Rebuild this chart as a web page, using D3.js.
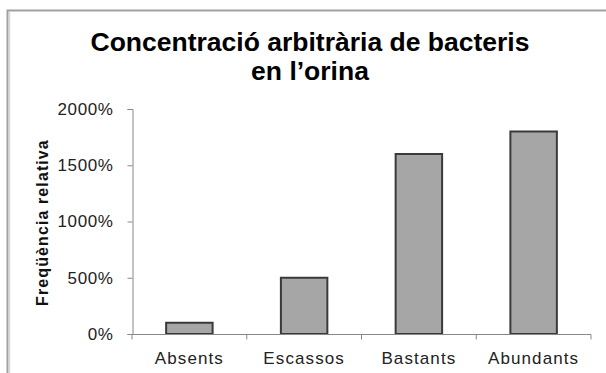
<!DOCTYPE html>
<html><head><meta charset="utf-8">
<script src="https://cdn.jsdelivr.net/npm/d3@7"></script>
<style>html,body{margin:0;padding:0;background:#fff;}svg{display:block;}</style>
</head><body>
<script>
const categories = ["Absents", "Escassos", "Bastants", "Abundants"];
const values = [100, 500, 1600, 1800];
const yTicks = [0, 500, 1000, 1500, 2000];
const titleLines = ["Concentració arbitrària de bacteris", "en l’orina"];
const yLabel = "Freqüència relativa";

const W = 606, H = 373;
const font = "Arial, 'Liberation Sans', sans-serif";
const svg = d3.select("body").append("svg").attr("width", W).attr("height", H);

// frame
svg.append("rect").attr("x", 7.5).attr("y", 10.5).attr("width", W + 10).attr("height", H + 10)
  .attr("fill", "#fff").attr("stroke", "#a0a0a0").attr("stroke-width", 2);
svg.append("line").attr("x1", 9.5).attr("x2", 9.5).attr("y1", 12).attr("y2", H)
  .attr("stroke", "#d8d8d8").attr("stroke-width", 1.5);

const x = d3.scaleBand().domain(categories).range([132, 591]).paddingInner(0.595).paddingOuter(0.2975);
const y = d3.scaleLinear().domain([0, 2000]).range([334, 109]);

// title
svg.append("g").selectAll("text").data(titleLines).join("text")
  .attr("x", 310).attr("y", (d, i) => 51 + i * 29)
  .attr("text-anchor", "middle").attr("font-family", font)
  .attr("font-size", 26.5).attr("font-weight", "bold").attr("fill", "#000")
  .text(d => d);

// y axis
const yAxis = svg.append("g").attr("transform", "translate(132.5,0)")
  .call(d3.axisLeft(y).tickValues(yTicks).tickSize(5).tickPadding(14).tickFormat(d => d + "%"));
yAxis.select(".domain").attr("stroke", "#888");
yAxis.selectAll(".tick line").attr("stroke", "#888");
yAxis.selectAll(".tick text").attr("font-family", font).attr("font-size", 17)
  .attr("letter-spacing", 0.6).attr("fill", "#222");

// bars
svg.append("g").selectAll("rect").data(values).join("rect")
  .attr("x", (d, i) => x(categories[i]))
  .attr("y", d => y(d))
  .attr("width", x.bandwidth())
  .attr("height", d => y(0) - y(d))
  .attr("fill", "#a6a6a6").attr("stroke", "#3a3a3a").attr("stroke-width", 2);

// x axis
const xAxis = svg.append("g").attr("transform", "translate(0,334.5)");
xAxis.append("line").attr("x1", 132).attr("x2", 591).attr("stroke", "#888");
const bounds = categories.map(c => x(c) - x.step() * x.paddingOuter()).concat([591]);
xAxis.selectAll(".tk").data(bounds).join("line").attr("class", "tk")
  .attr("x1", d => d).attr("x2", d => d).attr("y1", 0).attr("y2", 5).attr("stroke", "#888");
xAxis.selectAll("text").data(categories).join("text")
  .attr("x", d => x(d) + x.bandwidth() / 2).attr("y", 29.5)
  .attr("text-anchor", "middle").attr("font-family", font).attr("font-size", 17)
  .attr("letter-spacing", 1.1).attr("fill", "#222").text(d => d);

// y label
svg.append("text").attr("transform", "translate(48,222.5) rotate(-90)")
  .attr("text-anchor", "middle").attr("font-family", font).attr("font-size", 16)
  .attr("font-weight", "bold").attr("letter-spacing", 1.1).attr("fill", "#111").text(yLabel);
</script>
</body></html>
